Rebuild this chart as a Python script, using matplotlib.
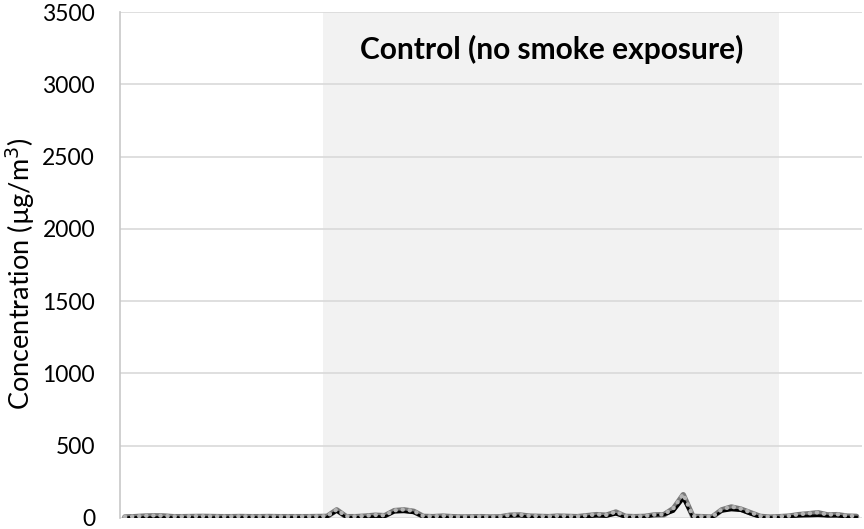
import numpy as np
import matplotlib.pyplot as plt

plt.rcParams['font.family'] = ['Lato', 'DejaVu Sans']

# sampling index (one reading per step)
t = np.arange(77)

# readings (µg/m3)
black_series = [2, 3, 2, 2, 3, 2, 2, 2, 3, 2, 2, 2, 2, 3, 2, 2, 2, 2, 3, 2,
                2, 5, 45, 3, 3, 5, 10, 8, 40, 42, 35, 5, 3, 6, 3, 2, 2, 3, 2, 2,
                12, 14, 6, 4, 3, 5, 4, 3, 8, 12, 10, 25, 4, 3, 4, 18, 20, 45, 130, 3,
                3, 2, 45, 55, 50, 25, 4, 2, 3, 8, 12, 13, 15, 12, 12, 6, 5]
gray_series = [6, 8, 12, 14, 13, 8, 8, 9, 10, 9, 8, 8, 9, 8, 8, 9, 8, 8, 8, 8,
               9, 10, 55, 8, 8, 12, 18, 15, 50, 55, 45, 10, 8, 12, 8, 6, 7, 8, 6, 7,
               18, 20, 12, 10, 8, 12, 10, 8, 15, 22, 18, 40, 10, 8, 10, 20, 22, 65, 160, 10,
               8, 5, 55, 75, 60, 35, 10, 5, 8, 12, 22, 28, 35, 20, 22, 12, 10]
dot_series = [8, 10, 14, 16, 14, 10, 10, 12, 12, 11, 10, 10, 11, 10, 10, 11, 10, 10, 10, 10,
              11, 12, 58, 10, 10, 14, 20, 17, 52, 58, 48, 12, 10, 14, 10, 8, 9, 10, 8, 9,
              20, 22, 14, 12, 10, 14, 12, 10, 17, 24, 20, 42, 12, 10, 12, 22, 24, 68, 165, 12,
              10, 7, 58, 78, 63, 38, 12, 7, 10, 14, 25, 30, 38, 22, 25, 14, 12]

control_start, control_end = 20.6, 68.0
title = 'Control (no smoke exposure)'

fig = plt.figure(figsize=(8.64, 5.29), dpi=100)
ax = fig.add_axes([0.139, 0.021, 0.859, 0.956])

ax.axvspan(control_start, control_end, color='#f2f2f2', zorder=0, lw=0)
ax.plot(t, gray_series, color='#7a7a7a', lw=4, solid_capstyle='round', zorder=3)
ax.plot(t, black_series, color='black', lw=2, zorder=4)
ax.plot(t, dot_series, color='#b4b4b4', lw=3, linestyle=(0, (0.1, 1.6)),
        dash_capstyle='round', zorder=5)

ax.set_xlim(-0.5, 76.6)
ax.set_ylim(0, 3500)
ax.set_yticks(np.arange(0, 3501, 500))
ax.set_xticks([])
ax.grid(axis='y', color='#d9d9d9', lw=1.2, zorder=1)
ax.set_axisbelow(True)
for s in ['top', 'right', 'bottom']:
    ax.spines[s].set_visible(False)
ax.spines['left'].set_color('#c8c8c8')
ax.spines['left'].set_linewidth(1.2)
ax.tick_params(axis='y', length=0, pad=18, labelsize=16.5)
ax.set_ylabel('Concentration (µg/m$^3$)', fontsize=19.5)
ax.yaxis.set_label_coords(-0.112, 0.482)

ax.text((control_start + control_end) / 2, 3245, title, ha='center', va='center',
        fontsize=21.5, fontweight='bold')

fig.savefig('out.png', dpi=100)
